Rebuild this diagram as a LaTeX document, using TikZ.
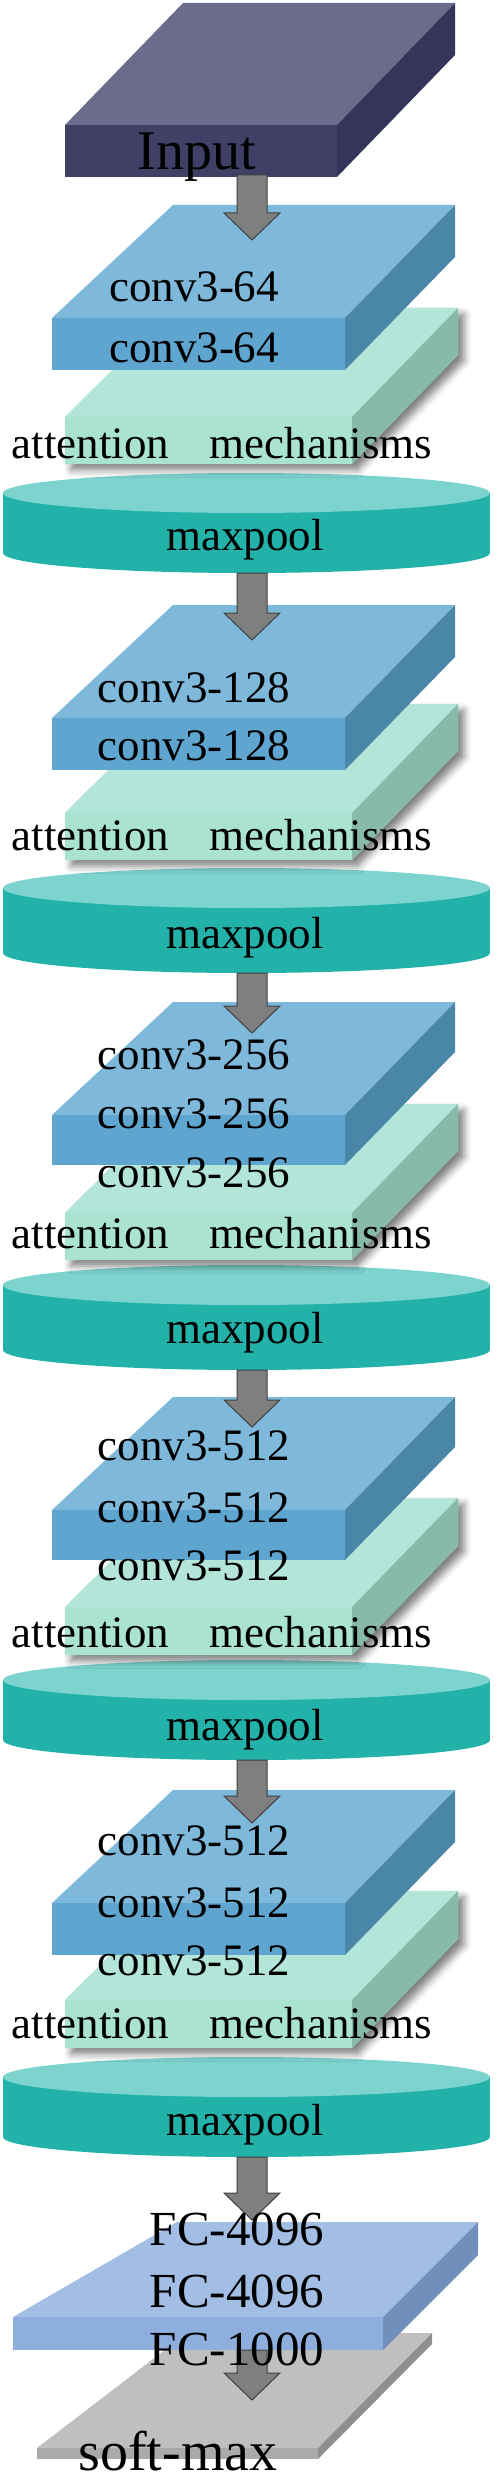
\documentclass[tikz,border=0pt]{standalone}
\usepackage{fontspec}
\setmainfont{Liberation Serif}
\usetikzlibrary{calc, shadows.blur}
\definecolor{inputtop}{HTML}{6B6B8C}
\definecolor{inputfront}{HTML}{404066}
\definecolor{inputside}{HTML}{35355A}
\definecolor{convtop}{HTML}{7EB9DB}
\definecolor{convfront}{HTML}{5EA5CF}
\definecolor{convside}{HTML}{4A86A7}
\definecolor{attntop}{HTML}{B3E6D8}
\definecolor{attnfront}{HTML}{ABE3D3}
\definecolor{attnside}{HTML}{88BAA9}
\definecolor{pooltop}{HTML}{7DD4CF}
\definecolor{poolbody}{HTML}{22B2A9}
\definecolor{arrowfill}{HTML}{7F7F7F}
\definecolor{arrowline}{HTML}{404040}
\definecolor{fctop}{HTML}{A3BEE5}
\definecolor{fcfront}{HTML}{8EAFDE}
\definecolor{fcside}{HTML}{7090BB}
\definecolor{softtop}{HTML}{C1BEBE}
\definecolor{softfront}{HTML}{AAAAAA}
\definecolor{softside}{HTML}{8F8F8F}

% #1 colour prefix, #2 x, #3 y of front top, #4 width, #5 height,
% #6 left depth, #7 right depth, #8 rise
\newcommand{\slab}[8]{%
  \path[#1 outline] (#2,#3+#5) -- (#2,#3) -- (#2+#6,#3-#8) -- (#2+#4+#7,#3-#8)
    -- (#2+#4+#7,#3-#8+#5) -- (#2+#4,#3+#5) -- cycle;
  \fill[#1top] (#2,#3) -- (#2+#4,#3) -- (#2+#4+#7,#3-#8) -- (#2+#6,#3-#8) -- cycle;
  \fill[#1front] (#2,#3) rectangle (#2+#4,#3+#5);
  \fill[#1side] (#2+#4,#3) -- (#2+#4+#7,#3-#8) -- (#2+#4+#7,#3-#8+#5) -- (#2+#4,#3+#5) -- cycle;
}
% #1 top, #2 bottom
\newcommand{\pool}[2]{%
  \fill[poolbody] (246.5,#2-20) ellipse [x radius=243.5pt, y radius=20pt];
  \fill[poolbody] (3,#1+20) rectangle (490,#2-20);
  \fill[pooltop] (246.5,#1+20) ellipse [x radius=243.5pt, y radius=20pt];
}
\newcommand{\flowarrow}[2]{%
  \filldraw[arrowfill, draw=arrowline, line width=1pt, line join=miter]
    ($(#1)+(-15,0)$) -- ($(#2)+(-15,-27)$) -- ($(#2)+(-28,-27)$) -- (#2)
    -- ($(#2)+(28,-27)$) -- ($(#2)+(15,-27)$) -- ($(#1)+(15,0)$) -- cycle;
}

\begin{document}
\begin{tikzpicture}[x=1pt, y=-1pt,
    lbl/.style={anchor=base, inner sep=0pt, font=\fontsize{45}{50}\selectfont},
    big/.style={lbl, font=\fontsize{56}{60}\selectfont},
    fc/.style={lbl, font=\fontsize{49}{54}\selectfont},
    attn outline/.style={fill=attnfront, blur shadow={shadow xshift=6pt,
        shadow yshift=-6pt, shadow blur radius=7pt, shadow opacity=50}},
    conv outline/.style={}, input outline/.style={},
    fc outline/.style={}, soft outline/.style={},
]
    \useasboundingbox (0,0) rectangle (497,2480);

    % input
    \slab{input}{65}{125}{272}{52}{118}{118}{122}
    \coordinate (in-b) at (252,175);

    % block 1
    \pool{473}{573}
    \slab{attn}{65}{417}{287}{47}{110}{106}{109}
    \slab{conv}{52}{318}{293}{52}{121}{110}{113}
    \coordinate (c1-t) at (252,240);
    \coordinate (p1-b) at (252,573);
    \flowarrow{in-b}{c1-t}

    % block 2
    \pool{868}{973}
    \slab{attn}{65}{813}{287}{47}{110}{106}{109}
    \slab{conv}{52}{718}{293}{52}{121}{110}{113}
    \coordinate (c2-t) at (252,640);
    \coordinate (p2-b) at (252,973);
    \flowarrow{p1-b}{c2-t}

    % block 3
    \pool{1265}{1370}
    \slab{attn}{65}{1213}{287}{47}{110}{106}{109}
    \slab{conv}{52}{1115}{293}{50}{121}{110}{113}
    \coordinate (c3-t) at (252,1033);
    \coordinate (p3-b) at (252,1370);
    \flowarrow{p2-b}{c3-t}

    % block 4
    \pool{1660}{1760}
    \slab{attn}{65}{1607}{287}{48}{110}{106}{109}
    \slab{conv}{52}{1510}{293}{50}{121}{110}{113}
    \coordinate (c4-t) at (252,1427);
    \coordinate (p4-b) at (252,1760);
    \flowarrow{p3-b}{c4-t}

    % block 5
    \pool{2057}{2157}
    \slab{attn}{65}{2000}{287}{48}{110}{106}{109}
    \slab{conv}{52}{1903}{293}{52}{121}{110}{113}
    \coordinate (c5-t) at (252,1823);
    \coordinate (p5-b) at (252,2157);
    \flowarrow{p4-b}{c5-t}

    % fully connected + soft-max
    \slab{soft}{37}{2448}{281}{11}{150}{114}{115}
    \slab{fc}{13}{2317}{370}{33}{164}{95}{95}
    \coordinate (fc-t) at (252,2220);
    \coordinate (fc-b) at (252,2350);
    \coordinate (sm-t) at (252,2400);
    \flowarrow{p5-b}{fc-t}
    \flowarrow{fc-b}{sm-t}

    % labels
    \node[big] (lin) at (197,170) {Input};
    \node[lbl] (l1a) at (194,302) {conv3-64};
    \node[lbl] (l1b) at (194,362) {conv3-64};
    \node[lbl] (l2a) at (194,702) {conv3-128};
    \node[lbl] (l2b) at (194,760) {conv3-128};
    \node[lbl] (l3a) at (194,1069) {conv3-256};
    \node[lbl] (l3b) at (194,1128) {conv3-256};
    \node[lbl] (l3c) at (194,1187) {conv3-256};
    \node[lbl] (l4a) at (194,1460) {conv3-512};
    \node[lbl] (l4b) at (194,1522) {conv3-512};
    \node[lbl] (l4c) at (194,1580) {conv3-512};
    \node[lbl] (l5a) at (194,1855) {conv3-512};
    \node[lbl] (l5b) at (194,1917) {conv3-512};
    \node[lbl] (l5c) at (194,1975) {conv3-512};
    \node[lbl] (la1) at (222,458) {attention\hspace{0.9em}mechanisms};
    \node[lbl] (la2) at (222,850) {attention\hspace{0.9em}mechanisms};
    \node[lbl] (la3) at (222,1248) {attention\hspace{0.9em}mechanisms};
    \node[lbl] (la4) at (222,1647) {attention\hspace{0.9em}mechanisms};
    \node[lbl] (la5) at (222,2038) {attention\hspace{0.9em}mechanisms};
    \node[lbl] (lp1) at (245,550) {maxpool};
    \node[lbl] (lp2) at (245,948) {maxpool};
    \node[lbl] (lp3) at (245,1343) {maxpool};
    \node[lbl] (lp4) at (245,1740) {maxpool};
    \node[lbl] (lp5) at (245,2135) {maxpool};
    \node[fc] (lf1) at (237,2245) {FC-4096};
    \node[fc] (lf2) at (237,2307) {FC-4096};
    \node[fc] (lf3) at (237,2365) {FC-1000};
    \node[big] (lsm) at (178,2470) {soft-max};
\end{tikzpicture}
\end{document}
